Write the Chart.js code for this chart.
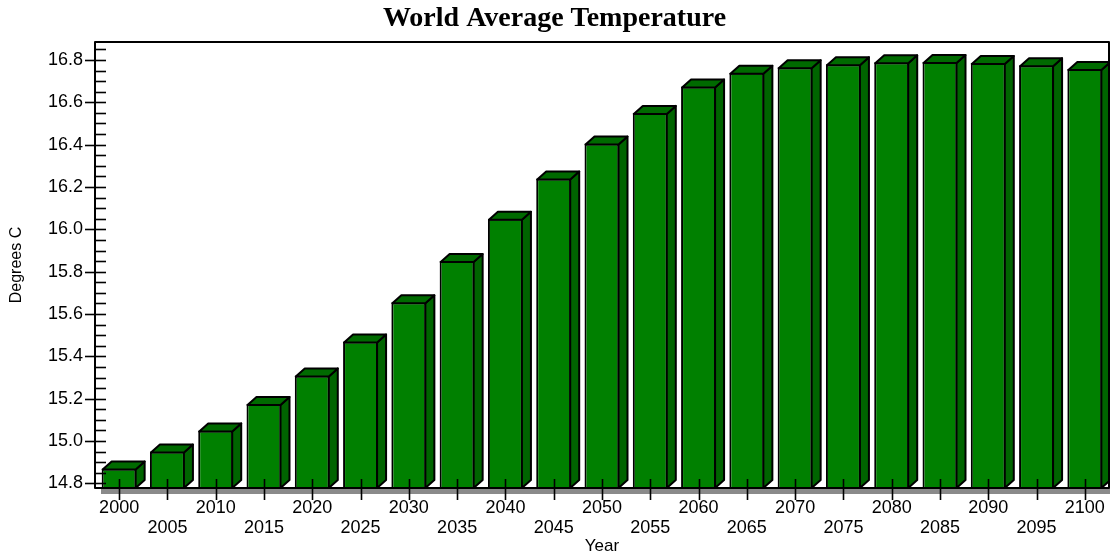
<!DOCTYPE html>
<html>
<head>
<meta charset="utf-8">
<script src="https://cdn.jsdelivr.net/npm/chart.js@4/dist/chart.umd.min.js"></script>
<style>
  html, body { margin: 0; padding: 0; background: #fff; }
</style>
</head>
<body>
<canvas id="tempCanvas" width="1110" height="557"></canvas>
<script>
// data
const years = ["2000","2005","2010","2015","2020","2025","2030","2035","2040","2045","2050",
               "2055","2060","2065","2070","2075","2080","2085","2090","2095","2100"];
const temps = [14.87, 14.95, 15.05, 15.175, 15.31, 15.47, 15.655, 15.85, 16.05, 16.24, 16.405,
               16.55, 16.675, 16.74, 16.766, 16.78, 16.789, 16.79, 16.786, 16.775, 16.757];
const yMin = 14.778;
const yMax = 16.885;

const DEPTH_X = 9;
const DEPTH_Y = 8;

// 3D side/top faces, frame, floor and tick marks
const box3d = {
    id: "box3d",
    beforeDatasetsDraw(chart) {
        const ctx = chart.ctx;
        const a = chart.chartArea;
        ctx.save();
        ctx.fillStyle = "#8a8a8a";
        ctx.fillRect(a.left + 6, a.bottom, a.right - a.left - 5, 6);
        ctx.restore();
    },
    afterDatasetsDraw(chart) {
        const ctx = chart.ctx;
        const a = chart.chartArea;
        const meta = chart.getDatasetMeta(0);
        ctx.save();
        ctx.lineWidth = 2;
        ctx.strokeStyle = "#000";
        ctx.lineJoin = "round";
        meta.data.forEach(bar => {
            const p = bar.getProps(["x", "y", "base", "width"], true);
            const xl = p.x - p.width / 2;
            const xr = p.x + p.width / 2;
            const base = Math.min(p.base, a.bottom);
            // side face
            ctx.beginPath();
            ctx.moveTo(xr - 1, p.y + 1);
            ctx.lineTo(xr - 1 + DEPTH_X, p.y + 1 - DEPTH_Y);
            ctx.lineTo(xr - 1 + DEPTH_X, base - DEPTH_Y);
            ctx.lineTo(xr - 1, base);
            ctx.closePath();
            ctx.fillStyle = "#006400";
            ctx.fill();
            ctx.stroke();
            // top face
            ctx.beginPath();
            ctx.moveTo(xl + 1, p.y + 1);
            ctx.lineTo(xl + 1 + DEPTH_X, p.y + 1 - DEPTH_Y);
            ctx.lineTo(xr - 1 + DEPTH_X, p.y + 1 - DEPTH_Y);
            ctx.lineTo(xr - 1, p.y + 1);
            ctx.closePath();
            ctx.fillStyle = "#006a00";
            ctx.fill();
            ctx.stroke();
        });

        // frame
        ctx.lineWidth = 2;
        ctx.strokeRect(a.left, a.top, a.right - a.left, a.bottom - a.top);

        // y ticks: majors cross the axis, minors inside
        const ys = chart.scales.y;
        ctx.lineWidth = 1.6;
        for (let i = 0; i * 0.05 + 14.8 <= yMax + 1e-9; i++) {
            const v = 14.8 + i * 0.05;
            const py = Math.round(ys.getPixelForValue(v)) + 0.5;
            ctx.beginPath();
            ctx.moveTo(i % 4 === 0 ? a.left - 10 : a.left, py);
            ctx.lineTo(a.left + 11, py);
            ctx.stroke();
        }
        // x ticks cross the axis
        const xs = chart.scales.x;
        years.forEach((yr, i) => {
            const px = Math.round(xs.getPixelForValue(i)) + 0.5;
            ctx.beginPath();
            ctx.moveTo(px, a.bottom - 9);
            ctx.lineTo(px, a.bottom + 12);
            ctx.stroke();
        });
        ctx.restore();
    }
};

const tempCanvas = document.getElementById("tempCanvas");
const tempChart = new Chart(tempCanvas, {
    type: "bar",
    data: {
        labels: years,
        datasets: [{
            label: "World Average Temperature",
            data: temps,
            backgroundColor: "#008000",
            borderColor: "#000",
            borderWidth: 2,
            barPercentage: 0.725,
            categoryPercentage: 1
        }]
    },
    options: {
        responsive: false,
        animation: false,
        devicePixelRatio: 1,
        layout: { padding: { left: 0, right: 1, top: 0, bottom: 0 } },
        plugins: {
            legend: { display: false },
            tooltip: { enabled: false },
            title: {
                display: true,
                text: "World Average Temperature",
                color: "#000",
                font: { family: "'Liberation Serif', 'Times New Roman', serif", size: 28, weight: "bold" },
                padding: { top: 2, bottom: 6.4 }
            }
        },
        scales: {
            x: {
                offset: true,
                grid: { display: false, drawTicks: false },
                border: { display: false },
                ticks: {
                    color: "#000",
                    autoSkip: false,
                    maxRotation: 0,
                    padding: 10,
                    font: { family: "'Liberation Sans', Arial, sans-serif", size: 18, lineHeight: 1.11 },
                    callback: function (value, index) {
                        return index % 2 === 0 ? years[index] : ["", years[index]];
                    }
                },
                title: {
                    display: true,
                    text: "Year",
                    color: "#000",
                    font: { family: "'Liberation Sans', Arial, sans-serif", size: 17 },
                    padding: { top: 1, bottom: 0 }
                },
                afterFit: function (scale) {
                    scale.height = 69;
                    scale.paddingLeft = 0;
                    scale.paddingRight = 0;
                }
            },
            y: {
                min: yMin,
                max: yMax,
                grid: { display: false, drawTicks: false },
                border: { display: false },
                ticks: {
                    color: "#000",
                    stepSize: 0.2,
                    includeBounds: false,
                    padding: 12,
                    font: { family: "'Liberation Sans', Arial, sans-serif", size: 18 },
                    callback: v => Number(v).toFixed(1)
                },
                title: {
                    display: true,
                    text: "Degrees C",
                    color: "#000",
                    font: { family: "'Liberation Sans', Arial, sans-serif", size: 16 },
                    padding: { top: 7, bottom: 7 }
                },
                afterFit: function (scale) { scale.width = 95; }
            }
        }
    },
    plugins: [box3d]
});
</script>
</body>
</html>
